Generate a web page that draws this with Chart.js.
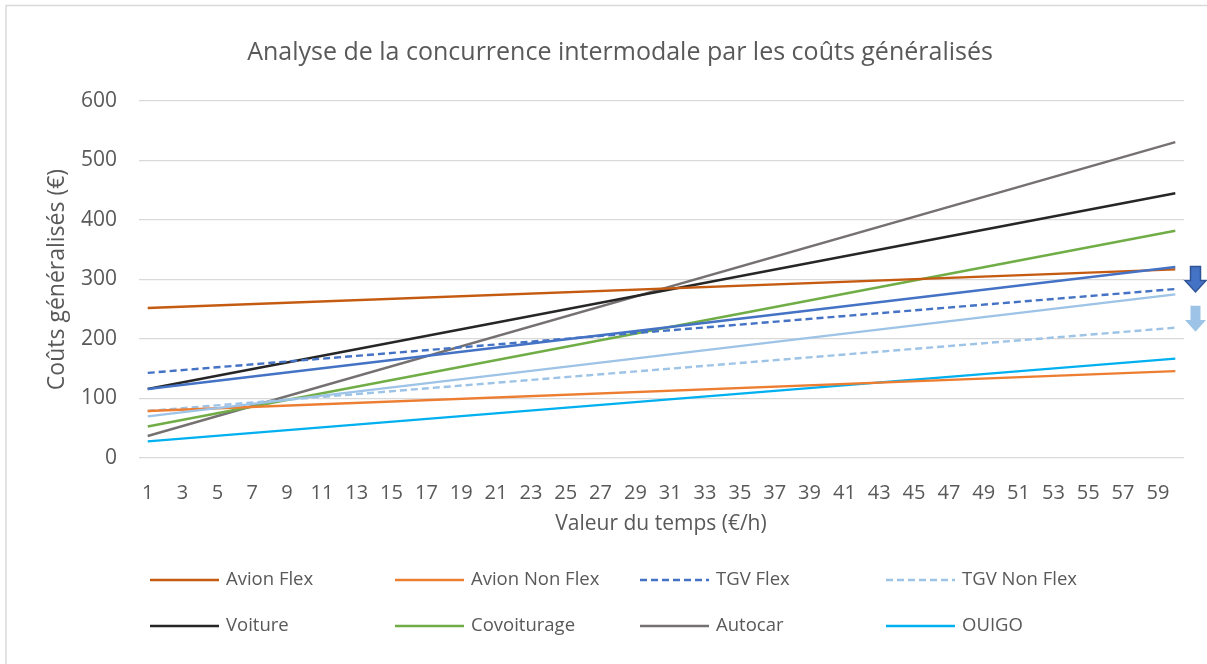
<!DOCTYPE html>
<html>
<head>
<meta charset="utf-8">
<script src="https://cdn.jsdelivr.net/npm/chart.js@4"></script>
<style>
  html, body { margin: 0; padding: 0; background: #fff; }
  #wrap { width: 1207px; height: 664px; position: relative; }
</style>
</head>
<body>
<div id="wrap"><canvas id="costChart" width="1207" height="664"></canvas></div>
<script>
// valeur du temps (€/h), 1 à 60
var timeValues = [];
for (var i = 1; i <= 60; i++) timeValues.push(String(i));

var yTicks = [0, 100, 200, 300, 400, 500, 600];

// coûts généralisés lus aux extrémités (x = 1 et x = 60), droites
var avionFlex = [252, 317];
var avionNonFlex = [79, 146];
var tgvFlex = [143, 284];
var tgvNonFlex = [79, 219];
var tgvFlexAvant = [116, 321];
var tgvNonFlexAvant = [70, 275];
var voiture = [116, 445];
var covoiturage = [53, 382];
var autocar = [37, 531];
var ouigo = [28, 167];

var TEXT = '#595959';

function ends(values) {
    return [{ x: '1', y: values[0] }, { x: '60', y: values[1] }];
}

function serie(label, values, color, dashed, inLegend) {
    return {
        label: label,
        data: ends(values),
        borderColor: color,
        backgroundColor: color,
        borderWidth: 2.4,
        borderDash: dashed ? [7, 4] : [],
        pointRadius: 0,
        tension: 0,
        showInLegend: inLegend
    };
}

var datasets = [
    serie('TGV Flex (avant)', tgvFlexAvant, '#4472C4', false, false),
    serie('TGV Non Flex (avant)', tgvNonFlexAvant, '#9DC3E6', false, false),
    serie('Avion Flex', avionFlex, '#C55A11', false, true),
    serie('Avion Non Flex', avionNonFlex, '#ED7D31', false, true),
    serie('TGV Flex', tgvFlex, '#4472C4', true, true),
    serie('TGV Non Flex', tgvNonFlex, '#9DC3E6', true, true),
    serie('Voiture', voiture, '#262626', false, true),
    serie('Covoiturage', covoiturage, '#70AD47', false, true),
    serie('Autocar', autocar, '#767171', false, true),
    serie('OUIGO', ouigo, '#00B0F0', false, true)
];

// titre, titres d'axes, légende en grille, flèches, cadre
var decorPlugin = {
    id: 'decor',
    beforeDraw: function(chart) {
        var ctx = chart.ctx;
        ctx.save();
        ctx.strokeStyle = '#D9D9D9';
        ctx.lineWidth = 1.5;
        ctx.beginPath();
        ctx.moveTo(6, chart.height);
        ctx.lineTo(6, 5.5);
        ctx.lineTo(chart.width, 5.5);
        ctx.stroke();
        ctx.restore();
    },
    afterDraw: function(chart) {
        var ctx = chart.ctx;
        var area = chart.chartArea;
        var y = chart.scales.y;
        ctx.save();
        ctx.fillStyle = TEXT;
        ctx.textAlign = 'center';
        ctx.textBaseline = 'middle';
        ctx.font = '25px "Open Sans"';
        ctx.fillText('Analyse de la concurrence intermodale par les coûts généralisés', 620, 53);

        ctx.font = '21px "Open Sans"';
        ctx.fillText('Valeur du temps (€/h)', 661, 524);

        ctx.save();
        ctx.translate(57, (area.top + area.bottom) / 2);
        ctx.rotate(-Math.PI / 2);
        ctx.font = '23px "Open Sans"';
        ctx.fillText('Coûts généralisés (€)', 0, 0);
        ctx.restore();

        // légende
        var items = chart.data.datasets.filter(function(d) { return d.showInLegend; });
        var colX = [150, 395, 640, 886];
        var rowY = [580, 626];
        ctx.font = '18.5px "Open Sans"';
        ctx.textAlign = 'left';
        items.forEach(function(d, k) {
            var cx = colX[k % 4], cy = rowY[Math.floor(k / 4)];
            ctx.strokeStyle = d.borderColor;
            ctx.lineWidth = 2.4;
            ctx.setLineDash(d.borderDash);
            ctx.beginPath();
            ctx.moveTo(cx, cy);
            ctx.lineTo(cx + 69, cy);
            ctx.stroke();
            ctx.setLineDash([]);
            ctx.fillStyle = TEXT;
            ctx.fillText(d.label, cx + 76, cy);
        });

        // flèches de baisse
        function arrow(top, tip, fill, stroke) {
            var x0 = area.right + 1, x1 = chart.width - 1;
            var mid = (x0 + x1) / 2;
            var t = y.getPixelForValue(top), p = y.getPixelForValue(tip);
            var h = t + (p - t) * 0.55;
            ctx.beginPath();
            ctx.moveTo(mid - 5, t);
            ctx.lineTo(mid + 5, t);
            ctx.lineTo(mid + 5, h);
            ctx.lineTo(x1, h);
            ctx.lineTo(mid, p);
            ctx.lineTo(x0, h);
            ctx.lineTo(mid - 5, h);
            ctx.closePath();
            ctx.fillStyle = fill;
            ctx.fill();
            if (stroke) {
                ctx.strokeStyle = stroke;
                ctx.lineWidth = 1.5;
                ctx.stroke();
            }
        }
        arrow(322, 279, '#4472C4', '#2F5597');
        arrow(256, 212, '#9DC3E6', null);
        ctx.restore();
    }
};

new Chart(document.getElementById('costChart').getContext('2d'), {
    type: 'line',
    data: {
        labels: timeValues,
        datasets: datasets
    },
    options: {
        responsive: false,
        animation: false,
        layout: {
            padding: { left: 5, right: 23, top: 101, bottom: 126 }
        },
        scales: {
            x: {
                type: 'category',
                offset: true,
                grid: { display: false },
                border: { display: false },
                ticks: {
                    autoSkip: false,
                    maxRotation: 0,
                    padding: 15,
                    color: TEXT,
                    font: { family: 'Open Sans', size: 20 },
                    callback: function(value, index) {
                        return index % 2 === 0 ? this.getLabelForValue(value) : '';
                    }
                },
                afterFit: function(scale) { scale.height = 80; }
            },
            y: {
                min: 0,
                max: 600,
                afterBuildTicks: function(scale) {
                    scale.ticks = yTicks.map(function(v) { return { value: v }; });
                },
                grid: { color: '#D9D9D9', lineWidth: 1.3, drawTicks: false },
                border: { display: false },
                ticks: {
                    padding: 22,
                    color: TEXT,
                    font: { family: 'Open Sans', size: 21 }
                },
                afterFit: function(scale) { scale.width = 134; }
            }
        },
        plugins: {
            legend: { display: false },
            title: { display: false },
            tooltip: { enabled: false }
        }
    },
    plugins: [decorPlugin]
});
</script>
</body>
</html>
